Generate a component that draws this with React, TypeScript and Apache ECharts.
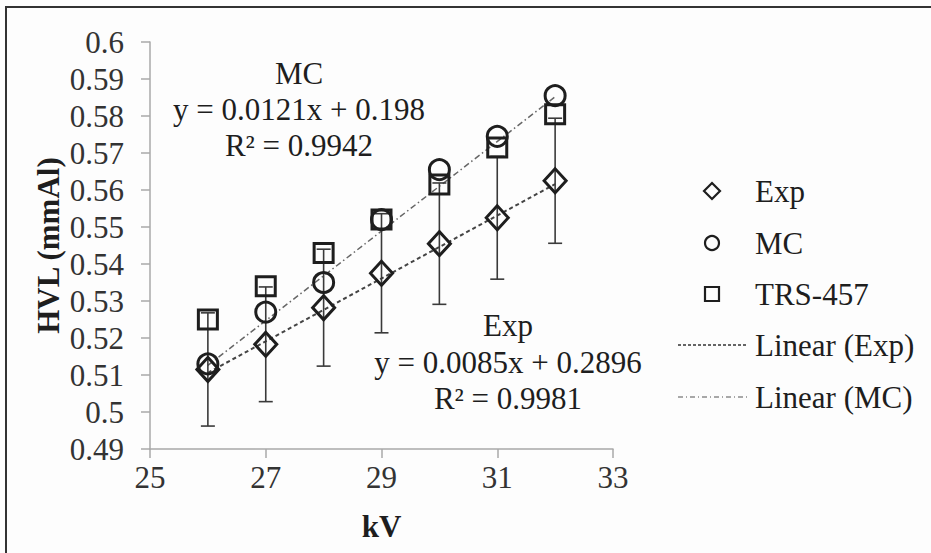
import React, { useEffect, useRef } from "react";
import * as echarts from "echarts";

const kV = [26, 27, 28, 29, 30, 31, 32];
const expHVL = [0.5115, 0.5183, 0.5282, 0.5375, 0.5455, 0.5525, 0.5625];
const expErr = [0.0153, 0.0155, 0.0158, 0.0161, 0.0164, 0.0166, 0.0169];
const mcHVL = [0.513, 0.527, 0.535, 0.552, 0.5655, 0.5745, 0.5855];
const trsHVL = [0.525, 0.534, 0.543, 0.552, 0.5615, 0.5715, 0.5805];
const trendExp = [[26, 0.5106], [32, 0.5616]];
const trendMC = [[26, 0.5126], [32, 0.5852]];
const legendLabels = ["Exp", "MC", "TRS-457", "Linear (Exp)", "Linear (MC)"];
const mcNote = ["MC", "y = 0.0121x + 0.198", "R² = 0.9942"];
const expNote = ["Exp", "y = 0.0085x + 0.2896", "R² = 0.9981"];

const FONT = "Liberation Serif";
const INK = "#1e1e1e";
const FS = 31;

export default function App() {
  const ref = useRef<HTMLDivElement>(null);
  useEffect(() => {
    if (!ref.current) return;
    const chart = echarts.init(ref.current, null, { renderer: "svg" });

    const markerStyle = { color: "transparent", borderColor: INK, borderWidth: 3, opacity: 1 };
    const legendX = 712;
    const legendTextX = 755;
    const rowY = [191, 243, 294, 345, 397];

    const txt = (t: string, x: number, y: number, align: string) => ({
      type: "text",
      x,
      y,
      style: {
        text: t,
        fontFamily: FONT,
        fontSize: FS,
        fill: INK,
        textAlign: align,
        textVerticalAlign: "middle",
      },
    });

    const legendGraphics: any[] = [
      { type: "polygon", shape: { points: [[legendX, rowY[0] - 8], [legendX + 8, rowY[0]], [legendX, rowY[0] + 8], [legendX - 8, rowY[0]]] }, style: { fill: "none", stroke: INK, lineWidth: 2.2 } },
      { type: "circle", shape: { cx: legendX, cy: rowY[1], r: 7 }, style: { fill: "none", stroke: INK, lineWidth: 2.2 } },
      { type: "rect", shape: { x: legendX - 7, y: rowY[2] - 7, width: 14, height: 14 }, style: { fill: "none", stroke: INK, lineWidth: 2.2 } },
      { type: "line", shape: { x1: 678, y1: rowY[3], x2: 748, y2: rowY[3] }, style: { stroke: "#333", lineWidth: 1.3, lineDash: [3, 2] } },
      { type: "line", shape: { x1: 678, y1: rowY[4], x2: 748, y2: rowY[4] }, style: { stroke: "#555", lineWidth: 1.2, lineDash: [5, 3, 1, 3] } },
      ...legendLabels.map((t, i) => txt(t, legendTextX, rowY[i], "left")),
    ];

    const noteGraphics = (lines: string[], cx: number, ys: number[]) =>
      lines.map((t, i) => txt(t, cx, ys[i], "center"));

    chart.setOption({
      animation: false,
      backgroundColor: "#fdfdfd",
      grid: { left: 150, right: 318, top: 42, bottom: 104 },
      xAxis: {
        type: "value",
        min: 25,
        max: 33,
        interval: 2,
        name: "kV",
        nameLocation: "middle",
        nameGap: 62,
        nameTextStyle: { fontFamily: FONT, fontSize: FS, fontWeight: "bold", color: INK },
        axisLine: { lineStyle: { color: "#a8a8a8", width: 1.5 } },
        axisTick: { show: true, length: 9, lineStyle: { color: "#a8a8a8", width: 1.5 } },
        axisLabel: { fontFamily: FONT, fontSize: FS, color: "#333", margin: 13 },
        splitLine: { show: false },
      },
      yAxis: {
        type: "value",
        min: 0.49,
        max: 0.6,
        interval: 0.01,
        name: "HVL (mmAl)",
        nameLocation: "middle",
        nameRotate: 90,
        nameGap: 86,
        nameTextStyle: { fontFamily: FONT, fontSize: FS, fontWeight: "bold", color: INK },
        axisLine: { show: true, lineStyle: { color: "#a8a8a8", width: 1.5 } },
        axisTick: { show: true, length: 9, lineStyle: { color: "#a8a8a8", width: 1.5 } },
        axisLabel: {
          fontFamily: FONT,
          fontSize: FS,
          color: "#333",
          margin: 26,
          formatter: (v: number) => String(Number(v.toFixed(2))),
        },
        splitLine: { show: false },
      },
      series: [
        {
          name: "Linear (Exp)",
          type: "line",
          data: trendExp,
          symbol: "none",
          lineStyle: { color: "#444", width: 2, type: [4, 3] },
          z: 1,
        },
        {
          name: "Linear (MC)",
          type: "line",
          data: trendMC,
          symbol: "none",
          lineStyle: { color: "#666", width: 1.5, type: [6, 3, 1.5, 3] },
          z: 1,
        },
        {
          name: "ExpErr",
          type: "custom",
          data: kV.map((x, i) => [x, expHVL[i] - expErr[i], expHVL[i] + expErr[i]]),
          renderItem: (params: any, api: any) => {
            const lo = api.coord([api.value(0), api.value(1)]);
            const hi = api.coord([api.value(0), api.value(2)]);
            const w = 7;
            const st = { stroke: "#3a3a3a", lineWidth: 1.6 };
            return {
              type: "group",
              children: [
                { type: "line", shape: { x1: lo[0], y1: lo[1], x2: hi[0], y2: hi[1] }, style: st },
                { type: "line", shape: { x1: lo[0] - w, y1: lo[1], x2: lo[0] + w, y2: lo[1] }, style: st },
                { type: "line", shape: { x1: hi[0] - w, y1: hi[1], x2: hi[0] + w, y2: hi[1] }, style: st },
              ],
            };
          },
          z: 2,
        },
        {
          name: "Exp",
          type: "scatter",
          data: kV.map((x, i) => [x, expHVL[i]]),
          symbol: "diamond",
          symbolSize: [22, 24],
          itemStyle: markerStyle,
          z: 3,
        },
        {
          name: "MC",
          type: "scatter",
          data: kV.map((x, i) => [x, mcHVL[i]]),
          symbol: "circle",
          symbolSize: 20,
          itemStyle: markerStyle,
          z: 3,
        },
        {
          name: "TRS-457",
          type: "scatter",
          data: kV.map((x, i) => [x, trsHVL[i]]),
          symbol: "rect",
          symbolSize: 19,
          itemStyle: markerStyle,
          z: 3,
        },
      ],
      graphic: [
        { type: "rect", shape: { x: 6, y: 7, width: 1000, height: 700 }, style: { fill: "none", stroke: "#333", lineWidth: 2 }, silent: true },
        ...legendGraphics,
        ...noteGraphics(mcNote, 299, [73, 109, 145]),
        ...noteGraphics(expNote, 508, [325, 362, 398]),
      ],
    });
    return () => chart.dispose();
  }, []);
  return (
    <div
      ref={ref}
      style={{ position: "fixed", left: 0, top: 0, width: 931, height: 553 }}
    />
  );
}
